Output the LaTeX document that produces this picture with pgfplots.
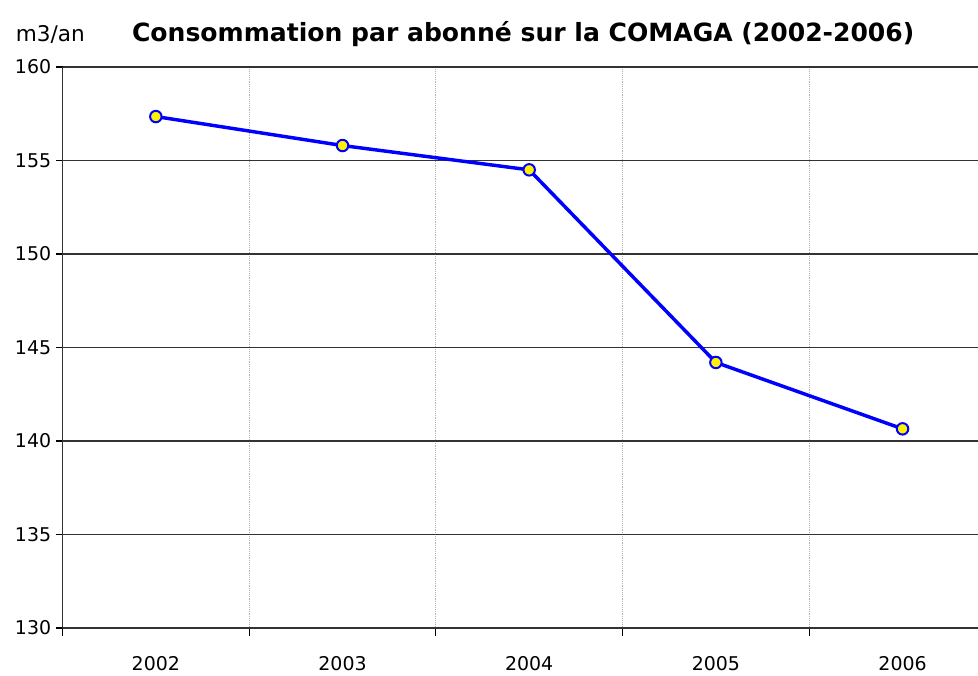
\documentclass[border=0pt]{standalone}
\usepackage{fontspec}
\setmainfont{DejaVu Sans}
\usepackage{pgfplots}
\pgfplotsset{compat=1.18}
\begin{document}
\begin{tikzpicture}[x=1pt,y=1pt]
\begin{axis}[
  at={(0pt,0pt)}, anchor=south west,
  scale only axis, width=686.6pt, height=420.75pt,
  xmin=-0.5, xmax=4.404, ymin=130, ymax=160,
  axis x line*=bottom, axis y line*=left,
  axis line style={line width=1.1pt, black!80, -},
  xtick={0,1,2,3,4},
  xticklabels={2002,2003,2004,2005,2006},
  major x tick style={draw=none},
  minor xtick={-0.5,0.5,1.5,2.5,3.5},
  minor tick length=6pt,
  xminorgrids=true,
  minor x grid style={densely dotted, gray!60, line width=0.6pt},
  minor x tick style={black, line width=0.8pt},
  ytick={130,135,...,160},
  ymajorgrids=true,
  major y grid style={black!80, line width=1pt},
  major tick length=5pt,
  tick align=outside,
  y tick style={black, line width=0.8pt},
  tick label style={font=\fontsize{14.2}{17}\selectfont},
  xticklabel style={yshift=-13pt},
  /pgf/number format/assume math mode=true,
  clip=false,
]
\addplot[blue, line width=2.6pt, mark=*, mark size=4.3pt,
  mark options={fill=yellow, draw=blue, line width=1.5pt}]
  coordinates {(0,157.35) (1,155.8) (2,154.5) (3,144.2) (4,140.65)};
\end{axis}
\node[anchor=base west, font=\fontsize{16.2}{19}\selectfont] at (-38.5pt,440pt) {m3/an};
\node[anchor=base, font=\bfseries\fontsize{18.8}{22}\selectfont] at (345.5pt,440pt) {Consommation par abonné sur la COMAGA (2002-2006)};
\pgfresetboundingbox
\path[use as bounding box] (-46.875pt,-35.25pt) rectangle (686.625pt,471pt);
\end{tikzpicture}
\end{document}
